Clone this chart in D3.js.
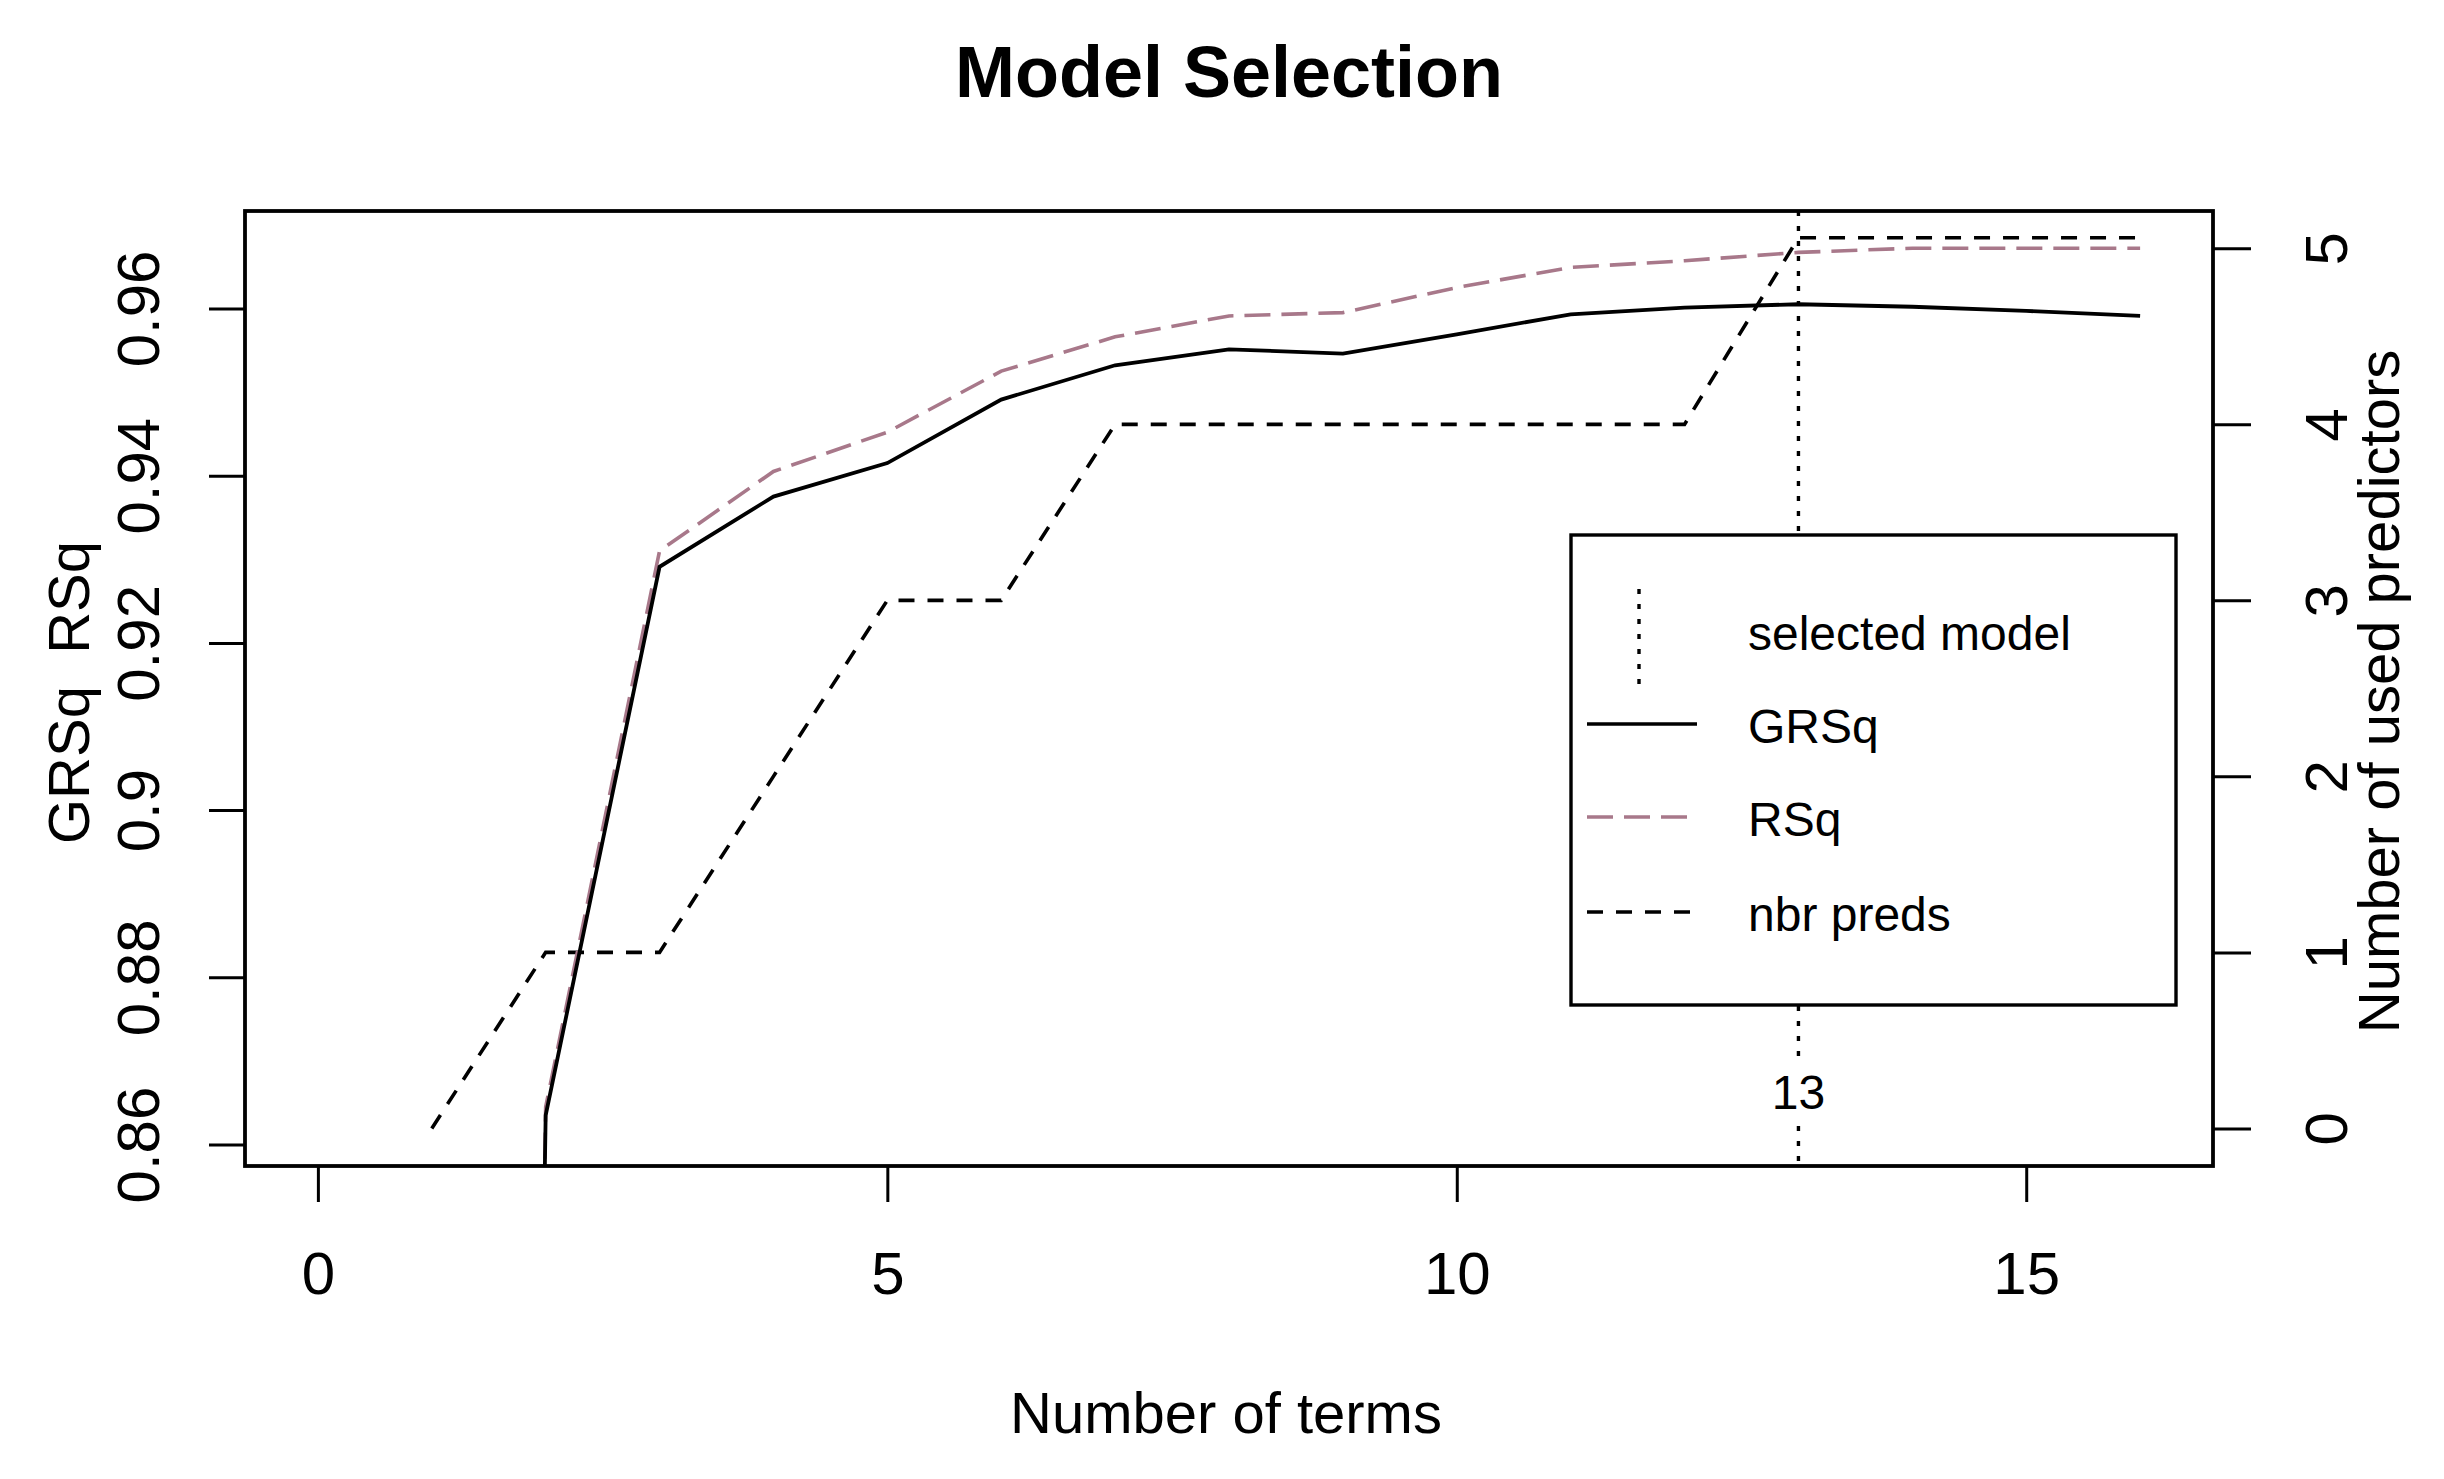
<!DOCTYPE html>
<html>
<head>
<meta charset="utf-8">
<script src="https://cdn.jsdelivr.net/npm/d3@7"></script>
<style>
  html, body { margin: 0; padding: 0; background: #ffffff; }
  svg { display: block; }
  text { font-family: "Liberation Sans", Arial, Helvetica, sans-serif; fill: #000; }
</style>
</head>
<body>
<script>
// ---------------- data ----------------
const nTerms    = [1, 2, 3, 4, 5, 6, 7, 8, 9, 10, 11, 12, 13, 14, 15, 16];
const grsq      = [0, 0.8635, 0.9291, 0.9375, 0.9415, 0.9491, 0.9532, 0.9551, 0.9546, 0.9569, 0.9593, 0.9601, 0.9605, 0.9602, 0.9597, 0.9591];
const rsq       = [0, 0.8645, 0.9310, 0.9405, 0.9452, 0.9525, 0.9566, 0.9591, 0.9595, 0.9625, 0.9649, 0.9657, 0.9667, 0.9672, 0.9672, 0.9672];
const nbrPreds  = [0, 1, 1, 2, 3, 3, 4, 4, 4, 4, 4, 4, 5.06, 5.06, 5.06, 5.06];
const selectedModel = 13;

const xTicks      = [0, 5, 10, 15];
const leftTicks   = [0.86, 0.88, 0.90, 0.92, 0.94, 0.96];
const leftLabels  = ["0.86", "0.88", "0.9", "0.92", "0.94", "0.96"];
const rightTicks  = [0, 1, 2, 3, 4, 5];
const rightLabels = ["0", "1", "2", "3", "4", "5"];

const xDomain     = [-0.64, 16.64];
const leftDomain  = [0.85744, 0.97165];
const rightDomain = [-0.2136, 5.212];

const titleText   = "Model Selection";
const xTitle      = "Number of terms";
const leftTitle   = "GRSq  RSq";
const rightTitle  = "Number of used predictors";
const legendLabels = ["selected model", "GRSq", "RSq", "nbr preds"];

// ---------------- layout ----------------
const W = 2444, H = 1479;
const box = { left: 245, right: 2213, top: 211, bottom: 1166 };
const RSQ_COL = "#a8788a";
const FONT = 60, TITLE_FONT = 72, LAB_FONT = 58, LEG_FONT = 48;

const svg = d3.select("body").append("svg")
  .attr("width", W).attr("height", H)
  .attr("viewBox", `0 0 ${W} ${H}`);

svg.append("rect").attr("width", W).attr("height", H).attr("fill", "#fff");

const x  = d3.scaleLinear().domain(xDomain).range([box.left, box.right]);
const yL = d3.scaleLinear().domain(leftDomain).range([box.bottom, box.top]);
const yR = d3.scaleLinear().domain(rightDomain).range([box.bottom, box.top]);

// clip
svg.append("defs").append("clipPath").attr("id", "plotclip")
  .append("rect")
  .attr("x", box.left).attr("y", box.top)
  .attr("width", box.right - box.left).attr("height", box.bottom - box.top);

const plot = svg.append("g").attr("clip-path", "url(#plotclip)");

// selected model vertical dotted line
plot.append("line")
  .attr("x1", x(selectedModel)).attr("x2", x(selectedModel))
  .attr("y1", box.top).attr("y2", box.bottom)
  .attr("stroke", "#000").attr("stroke-width", 3.4)
  .attr("stroke-dasharray", "5,10");

// nbr preds dashed line
const lineR = d3.line().x((d, i) => x(nTerms[i])).y(d => yR(d));
plot.append("path").datum(nbrPreds)
  .attr("d", lineR)
  .attr("fill", "none").attr("stroke", "#000").attr("stroke-width", 3.6)
  .attr("stroke-dasharray", "16,13");

// RSq long-dash line
const lineL = d3.line().x((d, i) => x(nTerms[i])).y(d => yL(d));
plot.append("path").datum(rsq)
  .attr("d", lineL)
  .attr("fill", "none").attr("stroke", RSQ_COL).attr("stroke-width", 3.6)
  .attr("stroke-dasharray", "26,11");

// GRSq solid line
plot.append("path").datum(grsq)
  .attr("d", lineL)
  .attr("fill", "none").attr("stroke", "#000").attr("stroke-width", 3.8);

// ---------------- axes ----------------
function styleAxis(g) {
  g.select(".domain").remove();
  g.selectAll(".tick line").attr("stroke", "#000").attr("stroke-width", 3);
  g.attr("font-family", null).attr("font-size", null);
  g.selectAll(".tick text").attr("font-size", FONT).attr("fill", "#000");
}

// bottom
const gx = svg.append("g").attr("transform", `translate(0,${box.bottom})`)
  .call(d3.axisBottom(x).tickValues(xTicks).tickSize(36).tickSizeOuter(0).tickFormat(d => String(d)));
styleAxis(gx);
gx.selectAll(".tick text").attr("y", 128).attr("dy", null).attr("text-anchor", "middle");

// left
const gl = svg.append("g").attr("transform", `translate(${box.left},0)`)
  .call(d3.axisLeft(yL).tickValues(leftTicks).tickSize(36).tickSizeOuter(0)
    .tickFormat((d, i) => leftLabels[i]));
styleAxis(gl);
gl.selectAll(".tick text")
  .attr("x", null).attr("dy", null).attr("text-anchor", "middle")
  .attr("transform", `translate(${159 - box.left},0) rotate(-90)`);

// right
const gr = svg.append("g").attr("transform", `translate(${box.right},0)`)
  .call(d3.axisRight(yR).tickValues(rightTicks).tickSize(38).tickSizeOuter(0)
    .tickFormat((d, i) => rightLabels[i]));
styleAxis(gr);
gr.selectAll(".tick text")
  .attr("x", null).attr("dy", null).attr("text-anchor", "middle")
  .attr("transform", `translate(${2347 - box.right},0) rotate(-90)`);

// plot box
svg.append("rect")
  .attr("x", box.left).attr("y", box.top)
  .attr("width", box.right - box.left).attr("height", box.bottom - box.top)
  .attr("fill", "none").attr("stroke", "#000").attr("stroke-width", 3.8);

// ---------------- titles ----------------
const cx = (box.left + box.right) / 2;
const cy = (box.top + box.bottom) / 2;

svg.append("text").text(titleText)
  .attr("x", cx).attr("y", 97)
  .attr("text-anchor", "middle").attr("font-weight", "bold").attr("font-size", TITLE_FONT);

svg.append("text").text(xTitle)
  .attr("x", cx - 3).attr("y", 1433)
  .attr("text-anchor", "middle").attr("font-size", LAB_FONT);

svg.append("text").text(leftTitle)
  .attr("xml:space", "preserve").style("white-space", "pre")
  .attr("text-anchor", "middle").attr("font-size", LAB_FONT)
  .attr("transform", `translate(89,${cy + 4}) rotate(-90)`);

svg.append("text").text(rightTitle)
  .attr("text-anchor", "middle").attr("font-size", LAB_FONT)
  .attr("transform", `translate(2399,${cy + 3}) rotate(-90)`);

// ---------------- legend ----------------
const leg = { x: 1571, y: 535, w: 605, h: 470 };
svg.append("rect")
  .attr("x", leg.x).attr("y", leg.y).attr("width", leg.w).attr("height", leg.h)
  .attr("fill", "#fff").attr("stroke", "#000").attr("stroke-width", 3.4);

const rowY = [636, 724, 817, 912];
const legStyles = [
  { kind: "v", stroke: "#000", dash: "5,10" },
  { kind: "h", stroke: "#000", dash: null },
  { kind: "h", stroke: RSQ_COL, dash: "26,11" },
  { kind: "h", stroke: "#000", dash: "16,13" }
];
legendLabels.forEach((lab, i) => {
  const st = legStyles[i];
  const ln = svg.append("line").attr("stroke", st.stroke).attr("stroke-width", 3.4);
  if (st.kind === "v") {
    ln.attr("x1", 1639).attr("x2", 1639).attr("y1", rowY[i] - 47).attr("y2", rowY[i] + 50);
  } else {
    ln.attr("x1", 1587).attr("x2", 1697).attr("y1", rowY[i]).attr("y2", rowY[i]);
  }
  if (st.dash) ln.attr("stroke-dasharray", st.dash);
  svg.append("text").text(lab)
    .attr("x", 1748).attr("y", rowY[i] + 14 + (i === 0 ? 0 : 5))
    .attr("font-size", LEG_FONT);
});

// selected-model label with white background
svg.append("rect")
  .attr("x", x(selectedModel) - 30).attr("y", 1056)
  .attr("width", 60).attr("height", 64).attr("fill", "#fff");
svg.append("text").text(String(selectedModel))
  .attr("x", x(selectedModel)).attr("y", 1109)
  .attr("text-anchor", "middle").attr("font-size", LEG_FONT);
</script>
</body>
</html>
